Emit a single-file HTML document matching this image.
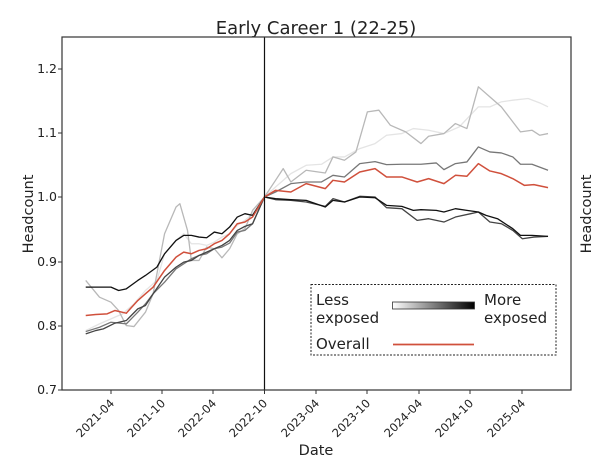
<!DOCTYPE html>
<html><head><meta charset="utf-8"><style>
body{margin:0;background:#fff;}
svg text{font-family:"DejaVu Sans","Liberation Sans",sans-serif;fill:#222;}
</style></head><body>
<svg width="600" height="464" viewBox="0 0 600 464" xmlns="http://www.w3.org/2000/svg">
<defs><linearGradient id="g" x1="0" x2="1"><stop offset="0" stop-color="#fff"/><stop offset="1" stop-color="#000"/></linearGradient></defs>
<text x="316" y="34" font-size="18" text-anchor="middle">Early Career 1 (22-25)</text>
<text transform="translate(33,214) rotate(-90)" font-size="14.5" text-anchor="middle">Headcount</text>
<text transform="translate(591,214) rotate(-90)" font-size="14.5" text-anchor="middle">Headcount</text>
<g font-size="12.5" fill="#222" text-anchor="end">
<text x="57" y="73">1.2</text><text x="57" y="137">1.1</text><text x="57" y="201">1.0</text>
<text x="57" y="266">0.9</text><text x="57" y="330">0.8</text><text x="57" y="394">0.7</text></g>
<g stroke="#333" stroke-width="1">
<line x1="62" y1="69" x2="58" y2="69"/><line x1="62" y1="133" x2="58" y2="133"/><line x1="62" y1="197" x2="58" y2="197"/><line x1="62" y1="262" x2="58" y2="262"/><line x1="62" y1="326" x2="58" y2="326"/><line x1="62" y1="390" x2="58" y2="390"/>
</g>
<g font-size="11.5" text-anchor="end">
<text transform="translate(115,404) rotate(-45)">2021-04</text>
<text transform="translate(166,404) rotate(-45)">2021-10</text>
<text transform="translate(217,404) rotate(-45)">2022-04</text>
<text transform="translate(268,404) rotate(-45)">2022-10</text>
<text transform="translate(320,404) rotate(-45)">2023-04</text>
<text transform="translate(371,404) rotate(-45)">2023-10</text>
<text transform="translate(423,404) rotate(-45)">2024-04</text>
<text transform="translate(474,404) rotate(-45)">2024-10</text>
<text transform="translate(526,404) rotate(-45)">2025-04</text>
</g>
<g stroke="#333"><line x1="111" y1="390" x2="111" y2="394"/><line x1="162" y1="390" x2="162" y2="394"/><line x1="213" y1="390" x2="213" y2="394"/><line x1="264.5" y1="390" x2="264.5" y2="394"/><line x1="316" y1="390" x2="316" y2="394"/><line x1="367" y1="390" x2="367" y2="394"/><line x1="419" y1="390" x2="419" y2="394"/><line x1="470" y1="390" x2="470" y2="394"/><line x1="522" y1="390" x2="522" y2="394"/></g>
<text x="316" y="455" font-size="14.5" text-anchor="middle">Date</text>
<g transform="scale(0.3827,0.3339)" fill="none" stroke-width="1.3" stroke-linejoin="round">
<polyline vector-effect="non-scaling-stroke" stroke="#e4e4e4" points="224,990 260,970 290,955 320,940 350,910 380,870 410,840 430,760 460,720 480,700 500,730 520,730 540,735 560,725 580,710 600,700 620,675 640,660 660,640 691,590 720,560 760,520 800,495 840,492 870,470 900,470 940,445 980,430 1010,405 1050,400 1080,385 1120,390 1160,400 1200,380 1250,320 1280,320 1310,305 1340,300 1380,295 1410,308 1432,320"/>
<polyline vector-effect="non-scaling-stroke" stroke="#b8b8b8" points="224,840 260,890 290,905 310,930 330,975 350,978 380,935 400,880 430,700 460,620 470,610 490,690 500,780 520,780 540,740 560,745 580,772 600,745 620,700 640,685 660,630 691,590 720,540 740,505 760,545 800,510 850,518 870,470 900,480 930,455 960,335 990,330 1020,375 1060,395 1100,430 1120,408 1160,400 1190,370 1220,385 1250,260 1280,290 1310,320 1340,365 1360,395 1390,390 1410,405 1432,400"/>
<polyline vector-effect="non-scaling-stroke" stroke="#777" points="224,993 260,980 290,965 330,970 360,935 380,910 400,880 430,845 460,805 480,790 500,775 520,765 540,760 560,745 580,740 600,728 620,695 640,690 660,670 691,590 720,575 760,550 800,545 840,545 870,525 900,530 940,490 980,484 1010,493 1050,492 1100,492 1140,488 1160,508 1190,490 1220,485 1250,440 1280,455 1310,458 1340,470 1360,492 1390,492 1432,510"/>
<polyline vector-effect="non-scaling-stroke" stroke="#444" points="224,1000 250,990 270,985 300,968 330,960 360,925 380,915 400,880 430,830 460,800 480,785 500,780 520,765 540,755 560,745 580,735 600,720 620,690 640,678 660,670 691,590 720,598 760,600 800,605 850,618 870,595 900,605 940,588 980,590 1010,622 1050,625 1090,660 1120,655 1160,665 1190,650 1230,640 1250,635 1280,665 1310,670 1340,690 1365,715 1395,710 1432,708"/>
<polyline vector-effect="non-scaling-stroke" stroke="#111" points="224,860 260,860 290,860 310,870 330,865 360,840 380,825 410,800 430,760 460,720 480,705 500,705 520,710 540,712 560,695 580,700 600,680 620,650 640,640 660,645 691,590 720,595 760,598 800,600 850,620 870,600 900,605 940,590 980,592 1010,615 1050,618 1080,630 1100,628 1140,630 1160,635 1190,625 1220,630 1250,635 1270,645 1300,655 1340,685 1360,705 1390,705 1432,708"/>
<polyline vector-effect="non-scaling-stroke" stroke="#d0503c" stroke-width="1.5" points="224,945 250,942 280,940 300,930 330,938 360,900 380,880 400,860 430,810 460,770 480,755 500,760 520,750 540,745 560,730 580,720 600,700 620,670 640,665 660,650 691,590 720,570 760,575 800,550 850,565 870,540 900,545 940,515 980,505 1010,530 1050,530 1090,545 1120,535 1160,550 1190,525 1220,528 1250,490 1280,512 1310,520 1340,535 1370,555 1395,553 1432,562"/>
</g>
<line x1="264.5" y1="37" x2="264.5" y2="390" stroke="#111" stroke-width="1.2"/>
<rect x="62" y="37" width="509" height="353" fill="none" stroke="#333" stroke-width="1.2"/>
<rect x="311" y="284.5" width="245" height="70.5" fill="#fff" stroke="#222" stroke-dasharray="2,1.5"/>
<g font-size="15"><text x="316" y="305">Less</text><text x="316" y="323">exposed</text>
<text x="484" y="305">More</text><text x="484" y="323">exposed</text>
<text x="316" y="349">Overall</text></g>
<rect x="392.5" y="302" width="82" height="7" fill="url(#g)" stroke="#333" stroke-width="0.8"/>
<line x1="393" y1="344.5" x2="474" y2="344.5" stroke="#d0503c" stroke-width="1.8"/>
</svg>
</body></html>
